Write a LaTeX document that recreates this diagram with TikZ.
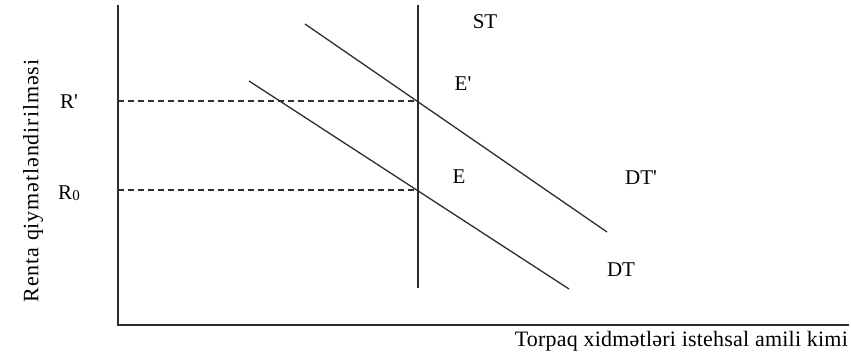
\documentclass[tikz,border=0pt]{standalone}
\usepackage{fontspec}
\setmainfont{Liberation Serif}
\usepackage{tikz}
\usetikzlibrary{positioning}
\definecolor{LineGray}{RGB}{45,45,45}
\tikzset{
	curve/.style={draw=LineGray, line width=1.3pt},
	guide/.style={draw=LineGray, line width=1.2pt, dash pattern=on 6pt off 4pt},
	lbl/.style={font=\fontsize{21}{23}\selectfont, inner sep=0pt},
	axislbl/.style={font=\fontsize{22}{24}\selectfont, inner sep=0pt}
}
\newcommand{\prm}{\textquotesingle}
\begin{document}
\begin{tikzpicture}[x=1pt, y=-1pt]
	\useasboundingbox (0,0) rectangle (851,355);
	% ejes
	\coordinate (top) at (118,5);
	\coordinate (origin) at (118,325);
	\coordinate (right) at (849,325);
	\draw[curve] (top) -- (origin) -- (right);
	% oferta ST
	\coordinate (st1) at (418,5);
	\coordinate (st2) at (418,288);
	\draw[curve] (st1) -- (st2);
	% demanda DT y DT'
	\coordinate (dt1) at (249,81);
	\coordinate (dt2) at (569,289);
	\coordinate (dtp1) at (305,24);
	\coordinate (dtp2) at (607,232);
	\draw[curve] (dt1) -- (dt2);
	\draw[curve] (dtp1) -- (dtp2);
	% equilibrios
	\coordinate (E0) at (418,190);
	\coordinate (E1) at (418,101);
	\coordinate (r0) at (118,190);
	\coordinate (r1) at (118,101);
	\draw[guide] (r1) -- (E1);
	\draw[guide] (r0) -- (E0);
	% etiquetas
	\node[lbl] (ST) at (485,22) {ST};
	\node[lbl] (Ep) at (463,84) {E\prm};
	\node[lbl] (E) at (459,177) {E};
	\node[lbl] (DTp) at (641,178) {DT\prm};
	\node[lbl] (DT) at (621,270) {DT};
	\node[lbl] (Rp) at (69,102) {R\prm};
	\node[lbl] (R0) at (69,193) {R\raisebox{-1pt}{\fontsize{15}{15}\selectfont 0}};
	\node[axislbl, rotate=90] (ylab) at (33,181)
		{\addfontfeature{LetterSpace=4}Renta qiymətləndirilməsi};
	\node[axislbl, anchor=east] (xlab) at (848,341)
		{\addfontfeature{LetterSpace=1}Torpaq xidmətləri istehsal amili kimi};
\end{tikzpicture}
\end{document}
